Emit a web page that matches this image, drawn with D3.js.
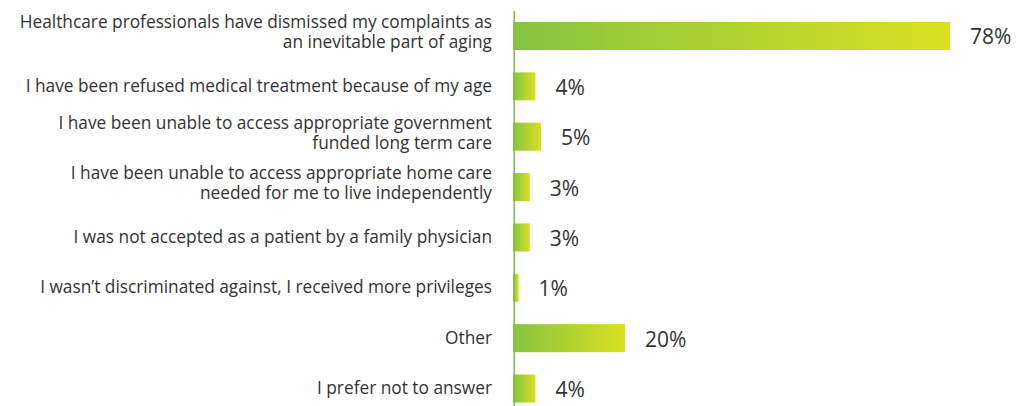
<!DOCTYPE html>
<html>
<head>
<meta charset="utf-8">
<script src="https://cdn.jsdelivr.net/npm/d3@7"></script>
<style>
  html, body { margin: 0; padding: 0; background: #fff; }
  svg { display: block; }
  text { font-family: "Open Sans", sans-serif; fill: #333; }
</style>
</head>
<body>
<svg id="chart" width="1019" height="406"></svg>
<script>
const categories = [
  ["Healthcare professionals have dismissed my complaints as", "an inevitable part of aging"],
  ["I have been refused medical treatment because of my age"],
  ["I have been unable to access appropriate government", "funded long term care"],
  ["I have been unable to access appropriate home care", "needed for me to live independently"],
  ["I was not accepted as a patient by a family physician"],
  ["I wasn\u2019t discriminated against, I received more privileges"],
  ["Other"],
  ["I prefer not to answer"]
];
const values = [78, 4, 5, 3, 3, 1, 20, 4];
const valueLabels = ["78%", "4%", "5%", "3%", "3%", "1%", "20%", "4%"];

const svg = d3.select("#chart");
const x = d3.scaleLinear().domain([0, 78]).range([513, 950]);
const y = d3.scaleBand().domain(d3.range(categories.length))
  .range([10.8, 413.7]).paddingInner(0.444).paddingOuter(0.222);

const defs = svg.append("defs");
const grad = defs.append("linearGradient").attr("id", "barGrad")
  .attr("x1", "0%").attr("x2", "100%").attr("y1", "0%").attr("y2", "0%");
grad.append("stop").attr("offset", "0%").attr("stop-color", "#86c440");
grad.append("stop").attr("offset", "100%").attr("stop-color", "#dae022");

svg.selectAll("rect.bar").data(values).enter().append("rect")
  .attr("class", "bar")
  .attr("x", x(0))
  .attr("y", (d, i) => y(i))
  .attr("width", d => x(d) - x(0))
  .attr("height", y.bandwidth())
  .attr("fill", "url(#barGrad)");

svg.append("line")
  .attr("x1", 514.3).attr("x2", 514.3)
  .attr("y1", 11).attr("y2", 406)
  .attr("stroke", "#7cc242").attr("stroke-width", 1.6);

// category labels
const lineH = 20;
categories.forEach((lines, i) => {
  const cy = y(i) + y.bandwidth() / 2;
  const n = lines.length;
  const t = svg.append("text")
    .attr("text-anchor", "end")
    .attr("font-size", 17.3)
    .attr("x", 492);
  lines.forEach((ln, j) => {
    const base = n === 1 ? cy + 5.5 : cy + 2 + (j - 0.5) * lineH;
    t.append("tspan")
      .attr("x", 492)
      .attr("y", base)
      .text(ln);
  });
});

// value labels
svg.selectAll("text.val").data(values).enter().append("text")
  .attr("class", "val")
  .attr("x", d => x(d) + 20)
  .attr("y", (d, i) => y(i) + y.bandwidth() / 2 + 8.5)
  .attr("font-size", 21)
  .text((d, i) => valueLabels[i]);
</script>
</body>
</html>
